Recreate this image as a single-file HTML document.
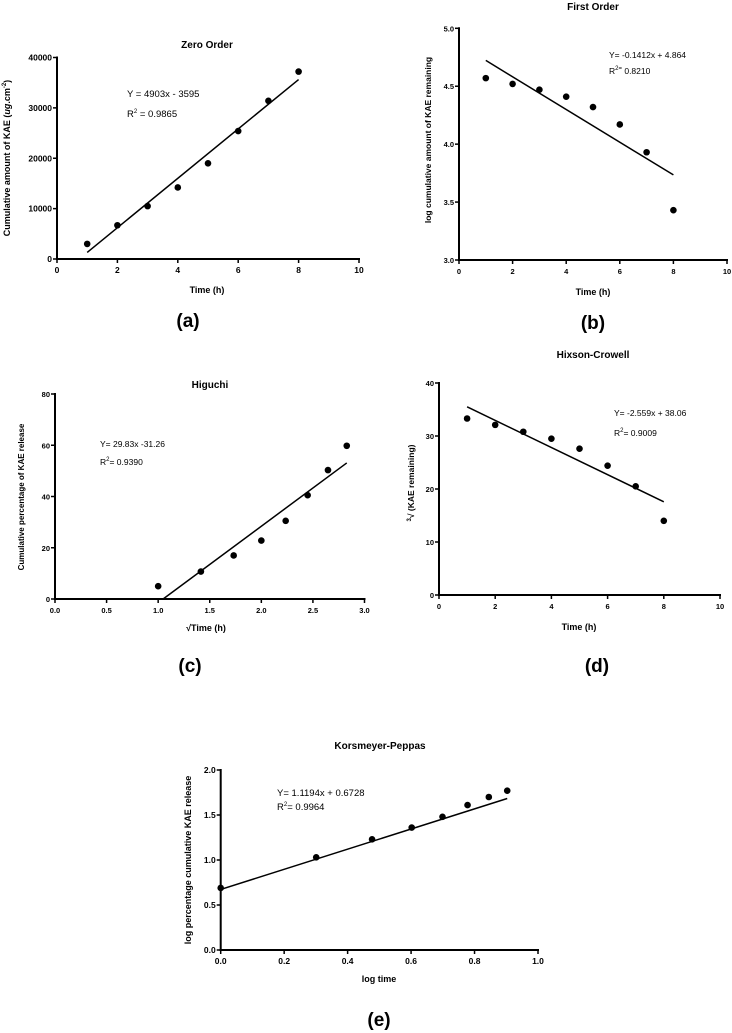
<!DOCTYPE html>
<html><head><meta charset="utf-8"><style>
html,body{margin:0;padding:0;background:#fff;}
svg{display:block;font-family:"Liberation Sans",Arial,sans-serif;}
text{fill:#000;}
</style></head><body>
<svg id="fig" width="732" height="1033" viewBox="0 0 732 1033" xmlns="http://www.w3.org/2000/svg"></svg>
<script>
// Panel (a) Zero order
const aX = [1,2,3,4,5,6,7,8];
const aY = [3000,6700,10500,14200,19000,25400,31400,37200];
const aFit = [4903, -3595];
const aXTicks = [0,2,4,6,8,10];
const aYTicks = [0,10000,20000,30000,40000];
// Panel (b) First order
const bX = [1,2,3,4,5,6,7,8];
const bY = [4.57,4.52,4.47,4.41,4.32,4.17,3.93,3.43];
const bFit = [-0.1412, 4.864];
const bXTicks = [0,2,4,6,8,10];
const bYTicks = ["3.0","3.5","4.0","4.5","5.0"];
// Panel (c) Higuchi
const cX = [1,1.414,1.732,2,2.236,2.449,2.646,2.828];
const cY = [5,10.7,17,22.8,30.5,40.5,50.3,59.8];
const cFit = [29.83, -31.26];
const cXTicks = ["0.0","0.5","1.0","1.5","2.0","2.5","3.0"];
const cYTicks = [0,20,40,60,80];
// Panel (d) Hixson-Crowell
const dX = [1,2,3,4,5,6,7,8];
const dY = [33.3,32.1,30.8,29.5,27.6,24.4,20.5,14];
const dFit = [-2.559, 38.06];
const dXTicks = [0,2,4,6,8,10];
const dYTicks = [0,10,20,30,40];
// Panel (e) Korsmeyer-Peppas
const eX = [0,0.301,0.477,0.602,0.699,0.778,0.845,0.903];
const eY = [0.69,1.03,1.23,1.36,1.48,1.61,1.70,1.77];
const eFit = [1.1194, 0.6728];
const eXTicks = ["0.0","0.2","0.4","0.6","0.8","1.0"];
const eYTicks = ["0.0","0.5","1.0","1.5","2.0"];

const NS = "http://www.w3.org/2000/svg";
const svg = document.getElementById("fig");
function mk(tag, attrs, parent, txt){
  const e = document.createElementNS(NS, tag);
  for (const k in attrs) e.setAttribute(k, attrs[k]);
  if (txt !== undefined) e.textContent = txt;
  (parent || svg).appendChild(e);
  return e;
}

function panel(p){
  const g = mk("g", {});
  
  
  const xt = p.xTicks.map(Number), yt = p.yTicks.map(Number);
  const xmin = xt[0], xmax = xt[xt.length-1], ymin = yt[0], ymax = yt[yt.length-1];
  const sx = v => p.x0 + (v - xmin) / (xmax - xmin) * (p.x1 - p.x0);
  const sy = v => p.y0 - (v - ymin) / (ymax - ymin) * (p.y0 - p.y1);
  const fs = p.fs || 8.5;
  const ax = mk("line", {x1:p.x0-1, y1:p.y0, x2:p.x1+1, y2:p.y0, stroke:"#000","stroke-width":2}, g);
  
  
  const ay = mk("line", {x1:p.x0, y1:p.y0+1, x2:p.x0, y2:p.y1-1, stroke:"#000","stroke-width":2}, g);
  
  
  p.xTicks.forEach(t => {
    const x = sx(Number(t));
    mk("line", {x1:x, y1:p.y0, x2:x, y2:p.y0+4, stroke:"#000","stroke-width":1.5}, g);
    const tl = mk("text", {x:x, y:p.y0+14, "font-size":fs, "font-weight":"bold", "text-anchor":"middle"}, g, String(t));
    
    
  });
  p.yTicks.forEach(t => {
    const y = sy(Number(t));
    mk("line", {x1:p.x0-4, y1:y, x2:p.x0, y2:y, stroke:"#000","stroke-width":1.5}, g);
    const tl = mk("text", {x:p.x0-5, y:y+3, "font-size":fs, "font-weight":"bold", "text-anchor":"end"}, g, String(t));
    
    
  });
  // fit line, clipped to y >= ymin
  let fx0 = p.xs[0];
  const fx1 = p.xs[p.xs.length-1];
  if (p.fit[0] > 0) {
    const root = (ymin - p.fit[1]) / p.fit[0];
    if (root > fx0) fx0 = root;
  }
  const fl = mk("line", {x1:sx(fx0), y1:sy(p.fit[0]*fx0+p.fit[1]), x2:sx(fx1), y2:sy(p.fit[0]*fx1+p.fit[1]), stroke:"#000","stroke-width":1.5}, g);
  
  
  p.xs.forEach((v,i) => {
    const c = mk("circle", {cx:sx(v), cy:sy(p.ys[i]), r:3.3, fill:"#000"}, g);
    
    
  });
  const ti = mk("text", {x:p.title[1], y:p.title[2], "font-size":10, "font-weight":"bold", "text-anchor":"middle"}, g, p.title[0]);
  
  
  const xl = mk("text", {x:p.xl[1], y:p.xl[2], "font-size":9, "font-weight":"bold", "text-anchor":"middle"}, g, p.xl[0]);
  
  
  const yl = mk("text", {x:0, y:0, "font-size":p.ylfs||9, "font-weight":"bold", "text-anchor":"middle", transform:`translate(${p.yl[1]},${p.yl[2]}) rotate(-90)`}, g);
  yl.innerHTML = p.yl[0];
  
  
  const e1 = mk("text", {x:p.eq[0], y:p.eq[1], "font-size":p.eqfs||9.5}, g, p.eq1);
  
  
  const e2 = mk("text", {x:p.eq[0], y:p.eq[2], "font-size":p.eqfs||9.5}, g);
  e2.innerHTML = p.eq2;
  
  
  const pl = mk("text", {x:p.lab[1], y:p.lab[2], "font-size":19, "font-weight":"bold", "text-anchor":"middle"}, g, p.lab[0]);
  
  
}

panel({id:"zero-order", xs:aX, ys:aY, fit:aFit, xTicks:aXTicks, yTicks:aYTicks, x0:57, x1:359, y0:259, y1:57.5,
  title:["Zero Order",207,48], xl:["Time (h)",207,293], yl:['Cumulative amount of KAE (<tspan font-style="italic">ug</tspan>.cm<tspan dy="-4" font-size="6">-2</tspan><tspan dy="4">)</tspan>',10,158],
  eq:[127,97,117], eq1:"Y = 4903x - 3595", eq2:'R<tspan dy="-4" font-size="6">2</tspan><tspan dy="4"> = 0.9865</tspan>', lab:["(a)",188,327]});
panel({id:"first-order", xs:bX, ys:bY, fit:bFit, xTicks:bXTicks, yTicks:bYTicks, x0:459, x1:727, y0:260, y1:28.3, fs:7.5,
  title:["First Order",593,10], xl:["Time (h)",593,295], yl:["log cumulative amount of KAE remaining",431,140], ylfs:8.5,
  eq:[609,58,74], eqfs:8.5, eq1:"Y= -0.1412x + 4.864", eq2:'R<tspan dy="-4" font-size="6">2=</tspan><tspan dy="4"> 0.8210</tspan>', lab:["(b)",593,329]});
panel({id:"higuchi", xs:cX, ys:cY, fit:cFit, xTicks:cXTicks, yTicks:cYTicks, x0:55, x1:364.5, y0:599, y1:394, fs:7.5,
  title:["Higuchi",210,388], xl:["\u221ATime (h)",206,631], yl:["Cumulative percentage of KAE release",24,497], ylfs:8,
  eq:[100,447,465], eqfs:8.5, eq1:"Y= 29.83x -31.26", eq2:'R<tspan dy="-4" font-size="6">2</tspan><tspan dy="4">= 0.9390</tspan>', lab:["(c)",190,672]});
panel({id:"hixson-crowell", xs:dX, ys:dY, fit:dFit, xTicks:dXTicks, yTicks:dYTicks, x0:439, x1:720, y0:595, y1:383, fs:7.5,
  title:["Hixson-Crowell",593,358], xl:["Time (h)",579,630], yl:['<tspan font-size="6" dy="-3">3</tspan><tspan dy="3">\u221A (KAE remaining)</tspan>',414,483], ylfs:8.5,
  eq:[614,416,436], eqfs:8.5, eq1:"Y= -2.559x + 38.06", eq2:'R<tspan dy="-4" font-size="6">2</tspan><tspan dy="4">= 0.9009</tspan>', lab:["(d)",597,672]});
panel({id:"korsmeyer-peppas", xs:eX, ys:eY, fit:eFit, xTicks:eXTicks, yTicks:eYTicks, x0:220.7, x1:538, y0:950, y1:770,
  title:["Korsmeyer-Peppas",380,749], xl:["log time",379,982], yl:["log percentage cumulative KAE release",191,860],
  eq:[277,796,810], eq1:"Y= 1.1194x + 0.6728", eq2:'R<tspan dy="-4" font-size="6">2</tspan><tspan dy="4">= 0.9964</tspan>', lab:["(e)",379,1026]});
</script>
</body></html>
